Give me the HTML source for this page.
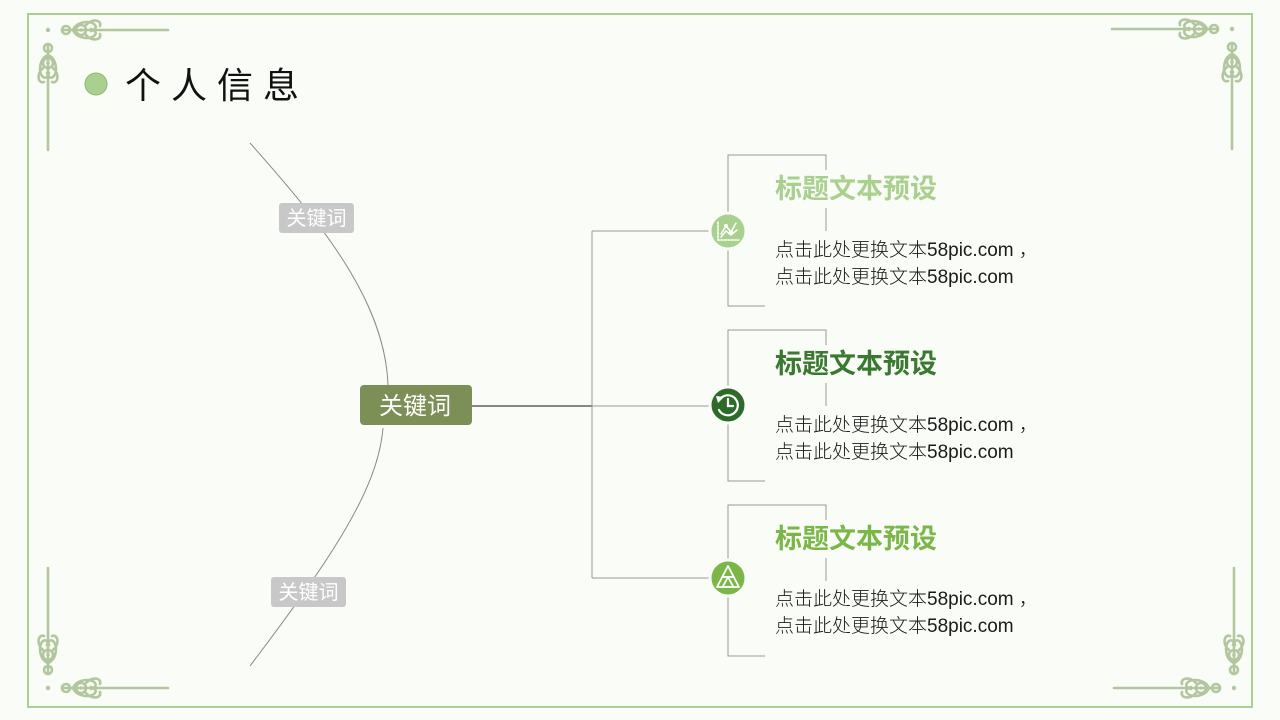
<!DOCTYPE html>
<html><head><meta charset="utf-8"><style>
html,body{margin:0;padding:0;background:#fafcf7;}
svg{display:block;}
text{font-family:"Liberation Sans","Noto Sans CJK SC",sans-serif;}
</style></head><body>
<svg width="1280" height="720" viewBox="0 0 1280 720" xmlns="http://www.w3.org/2000/svg">
<defs>
<g id="orn" fill="none" stroke="#b3c79e" stroke-width="2.6" stroke-linecap="round">
  <circle cx="0" cy="0" r="2.2" fill="#b3c79e" stroke="none"/>
  <line x1="14" y1="0" x2="120" y2="0"/>
  <circle cx="18" cy="0" r="4"/>
  <circle cx="33" cy="0" r="5"/>
  <circle cx="33" cy="0" r="1.8" fill="#b3c79e" stroke="none"/>
  <path d="M25,0 C29,-9 43,-10 47,-5 C49,-2 46,1 43,-1"/>
  <path d="M25,0 C29,9 43,10 47,5 C49,2 46,-1 43,1"/>
  <path d="M38,-5 C44,-12 54,-10 52,-4"/>
  <path d="M38,5 C44,12 54,10 52,4"/>
  <g transform="matrix(0,1,1,0,0,0)">
    <line x1="14" y1="0" x2="120" y2="0"/>
    <circle cx="18" cy="0" r="4"/>
    <circle cx="33" cy="0" r="5"/>
    <circle cx="33" cy="0" r="1.8" fill="#b3c79e" stroke="none"/>
    <path d="M25,0 C29,-9 43,-10 47,-5 C49,-2 46,1 43,-1"/>
    <path d="M25,0 C29,9 43,10 47,5 C49,2 46,-1 43,1"/>
    <path d="M38,-5 C44,-12 54,-10 52,-4"/>
    <path d="M38,5 C44,12 54,10 52,4"/>
  </g>
</g>
</defs>

<rect x="0" y="0" width="1280" height="720" fill="#fafcf7"/>
<rect x="28" y="14" width="1224" height="693" fill="none" stroke="#a9d08e" stroke-width="2"/>

<use href="#orn" transform="translate(48,30)"/>
<use href="#orn" transform="translate(1232,29) scale(-1,1)"/>
<use href="#orn" transform="translate(48,688) scale(1,-1)"/>
<use href="#orn" transform="translate(1234,688) scale(-1,-1)"/>

<!-- header -->
<circle cx="96" cy="84" r="11" fill="#a9d08e" stroke="#8db873" stroke-width="1"/>
<text x="125" y="98" font-size="36" letter-spacing="10" fill="#111">个人信息</text>

<!-- left curves -->
<path d="M250,143 C320,222 385,300 388,385" fill="none" stroke="#8a8a8a" stroke-width="1"/>
<path d="M383,428 C378,490 330,560 250,666" fill="none" stroke="#8a8a8a" stroke-width="1"/>
<rect x="279" y="203" width="75" height="30" rx="3" fill="#c8c8c8"/>
<text x="316.5" y="225" font-size="20" fill="#fff" text-anchor="middle">关键词</text>
<rect x="271" y="577" width="75" height="30" rx="3" fill="#c8c8c8"/>
<text x="308.5" y="599" font-size="20" fill="#fff" text-anchor="middle">关键词</text>

<!-- center node -->
<line x1="472" y1="406" x2="592" y2="406" stroke="#888" stroke-width="2"/>
<rect x="360" y="385" width="112" height="40" rx="4" fill="#7b8f56"/>
<text x="415" y="414" font-size="24" fill="#fff" text-anchor="middle">关键词</text>

<!-- connectors -->
<g stroke="#999" stroke-width="1" fill="none">
  <line x1="592" y1="231" x2="592" y2="578"/>
  <line x1="592" y1="231" x2="712" y2="231"/>
  <line x1="592" y1="406" x2="712" y2="406"/>
  <line x1="592" y1="578" x2="712" y2="578"/>
  <path d="M765,306 H728 V155 H826 V231"/>
  <path d="M765,481 H728 V330 H826 V406"/>
  <path d="M765,656 H728 V505 H826 V581"/>
</g>

<!-- title backgrounds -->
<rect x="770" y="170" width="175" height="38" fill="#fafcf7"/>
<rect x="770" y="345" width="175" height="38" fill="#fafcf7"/>
<rect x="770" y="520" width="175" height="38" fill="#fafcf7"/>

<!-- icons -->
<circle cx="728" cy="231" r="18" fill="#a9d08e" stroke="#fafcf7" stroke-width="3"/>
<g stroke="#fff" stroke-width="1.5" fill="none" stroke-linecap="round">
  <path d="M718,222 V240 H739" stroke-dasharray="2 1.5"/>
  <path d="M721,234 L726,226 L731,232 L736,223"/>
  <path d="M721,237 L726,231 L731,235 L737,230"/>
  <circle cx="726" cy="226" r="1.3" fill="#fff"/>
  <circle cx="731" cy="232" r="1.3" fill="#fff"/>
</g>

<circle cx="728" cy="405" r="18" fill="#2e6b2a" stroke="#fafcf7" stroke-width="3"/>
<g stroke="#fff" stroke-width="2.2" fill="none" stroke-linecap="round">
  <path d="M721,398 A10,10 0 1 1 719,410"/>
  <path d="M728,399 V406 H733"/>
</g>
<path d="M716,396 L724,397 L718,403 Z" fill="#fff"/>

<circle cx="728" cy="578" r="18" fill="#7ab648" stroke="#fafcf7" stroke-width="3"/>
<g stroke="#fff" stroke-width="1.8" fill="none" stroke-linejoin="round">
  <path d="M728,566 L739,587 H717 Z"/>
  <path d="M728,577 L733.5,587 H722.5 Z"/>
  <path d="M722.5,577 H733.5"/>
</g>

<!-- titles -->
<text x="775" y="198" font-size="27" font-weight="bold" fill="#a9d08e">标题文本预设</text>
<text x="775" y="373" font-size="27" font-weight="bold" fill="#3a7a30">标题文本预设</text>
<text x="775" y="548" font-size="27" font-weight="bold" fill="#7ab648">标题文本预设</text>

<!-- body text -->
<g font-size="19" fill="#1a1a1a" font-weight="300">
  <text x="775" y="256" xml:space="preserve">点击此处更换文本58pic.com ，</text>
  <text x="775" y="283">点击此处更换文本58pic.com</text>
  <text x="775" y="431" xml:space="preserve">点击此处更换文本58pic.com ，</text>
  <text x="775" y="458">点击此处更换文本58pic.com</text>
  <text x="775" y="605" xml:space="preserve">点击此处更换文本58pic.com ，</text>
  <text x="775" y="632">点击此处更换文本58pic.com</text>
</g>
</svg>
</body></html>
